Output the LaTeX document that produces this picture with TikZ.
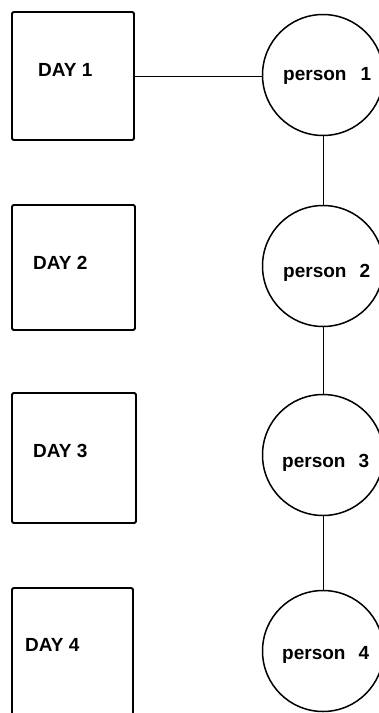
\documentclass[tikz,border=0pt]{standalone}
\usepackage{fontspec}
\setmainfont{Liberation Sans}
\begin{document}
\begin{tikzpicture}[x=1pt,y=-1pt,
  daybox/.style={draw=black, line width=1.8pt, rounded corners=1.5pt, inner sep=0pt},
  label/.style={font=\bfseries\fontsize{19}{22}\selectfont, inner sep=0pt},
  daytext/.style={label, anchor=west},
  ptext/.style={label, anchor=base west},
  person/.style={draw=black, line width=1.5pt, circle, inner sep=0pt, minimum size=121pt},
  link/.style={draw=black, line width=1pt}]
\useasboundingbox (0,0) rectangle (378,713);

% day boxes
\node[daybox, minimum width=122pt, minimum height=128pt] (d1) at (73,76) {};
\node[daybox, minimum width=123pt, minimum height=125pt] (d2) at (73.5,267.5) {};
\node[daybox, minimum width=124pt, minimum height=130pt] (d3) at (74,458) {};
\node[daybox, minimum width=121pt, minimum height=130pt] (d4) at (72.5,653) {};

\node[daytext] (t1) at (38,70) {DAY 1};
\node[daytext] (t2) at (33,263) {DAY 2};
\node[daytext] (t3) at (33,451) {DAY 3};
\node[daytext] (t4) at (25,645) {DAY 4};

% person circles
\node[person] (p1) at (323,75) {};
\node[person] (p2) at (323,266) {};
\node[person] (p3) at (323,455) {};
\node[person] (p4) at (323,651) {};

\node[ptext] (q1) at (283,80) {person\hspace{14pt}1};
\node[ptext] (q2) at (283,277) {person\hspace{13pt}2};
\node[ptext] (q3) at (282,467) {person\hspace{13pt}3};
\node[ptext] (q4) at (282,659) {person\hspace{13pt}4};

% connectors
\draw[link] (d1.east) -- (d1.east -| p1.west);
\draw[link] (p1.south) -- (p2.north);
\draw[link] (p2.south) -- (p3.north);
\draw[link] (p3.south) -- (p4.north);
\end{tikzpicture}
\end{document}
